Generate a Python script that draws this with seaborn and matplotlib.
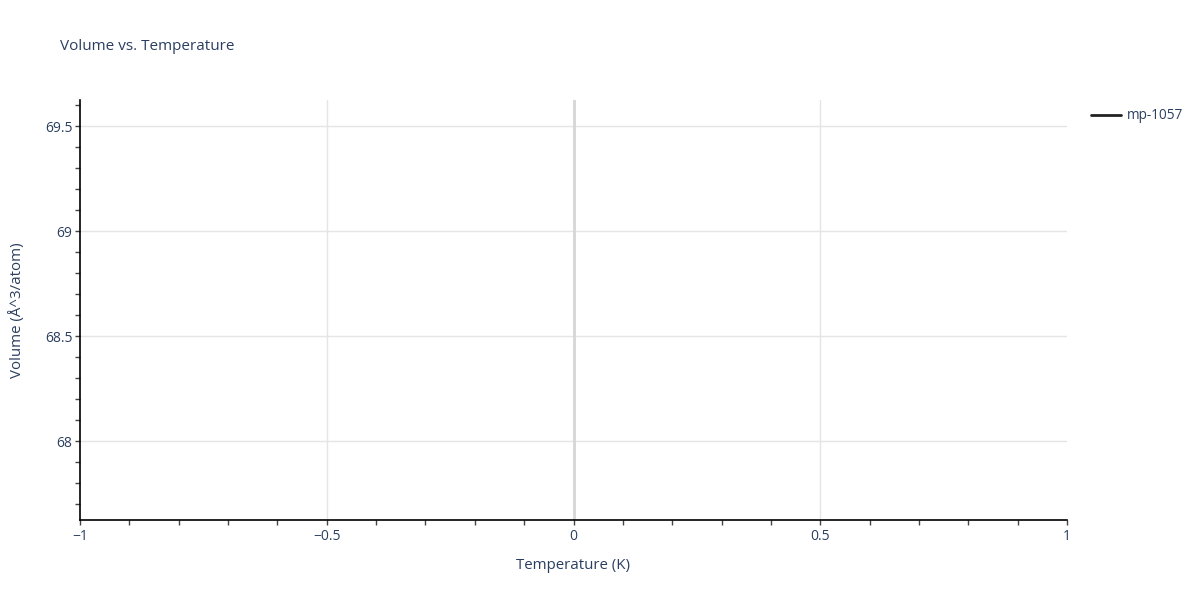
import numpy as np
import pandas as pd
import matplotlib
matplotlib.use("Agg")
import matplotlib.pyplot as plt
from matplotlib.ticker import MultipleLocator
import seaborn as sbn

# Veri: tek bir nokta (çizgi görünmüyor)
temperature = [0.0]
volume = [68.624]
material = ["mp-1057"]

df = pd.DataFrame({"Temperature": temperature, "Volume": volume, "Material": material})

sbn.set_style("white")
plt.rcParams["font.family"] = ["Open Sans", "DejaVu Sans"]

text_color = "#2a3f5f"
grid_color = "#e5e5e5"

fig = plt.figure(figsize=(12, 6), dpi=100)
ax = fig.add_axes([80 / 1200, 1 - 520 / 600, (1067 - 80) / 1200, 420 / 600])

sbn.lineplot(data=df, x="Temperature", y="Volume", hue="Material",
             palette=["#222222"], linewidth=2, ax=ax, legend=True)

ax.set_xlim(-1, 1)
ax.set_ylim(volume[0] - 1, volume[0] + 1)

ax.xaxis.set_major_locator(MultipleLocator(0.5))
ax.xaxis.set_minor_locator(MultipleLocator(0.1))
ax.yaxis.set_major_locator(MultipleLocator(0.5))
ax.yaxis.set_minor_locator(MultipleLocator(0.1))

ax.grid(True, which="major", color=grid_color, linewidth=1)
ax.axvline(0, color="#d6d6d6", linewidth=2, zorder=1)
ax.set_axisbelow(True)

for side in ["top", "right"]:
    ax.spines[side].set_visible(False)
for side in ["left", "bottom"]:
    ax.spines[side].set_color("#000000")
    ax.spines[side].set_linewidth(1.2)

ax.tick_params(which="both", direction="out", color="#444444", labelcolor=text_color,
               labelsize=10, left=True, bottom=True, length=3.5, width=1)
ax.tick_params(axis="x", pad=3)
ax.tick_params(axis="y", pad=2)


def fmt(v, pos=None):
    s = f"{v:g}"
    return s.replace("-", "\u2212")


ax.xaxis.set_major_formatter(plt.FuncFormatter(fmt))
ax.yaxis.set_major_formatter(plt.FuncFormatter(fmt))

ax.set_xlabel("Temperature (K)", color=text_color, fontsize=10.8, labelpad=10)
ax.set_ylabel("Volume (Å^3/atom)", color=text_color, fontsize=10.8, labelpad=14)

fig.text(60 / 1200, 1 - 46 / 600, "Volume vs. Temperature", color=text_color,
         fontsize=11, va="center", ha="left")

handles, labels = ax.get_legend_handles_labels()
leg = ax.legend(handles, labels, loc="upper left", bbox_to_anchor=(1086 / 1200, 1 - 103 / 600),
                bbox_transform=fig.transFigure, frameon=False, fontsize=9.8,
                handlelength=2.2, handletextpad=0.4, borderaxespad=0)
for t in leg.get_texts():
    t.set_color(text_color)

# kenardaki ızgara çizgilerini gizle
fig.canvas.draw()
for line in ax.get_xgridlines():
    x = line.get_xdata()[0]
    if abs(x) >= 0.999:
        line.set_visible(False)

fig.savefig("out.png", dpi=100)
